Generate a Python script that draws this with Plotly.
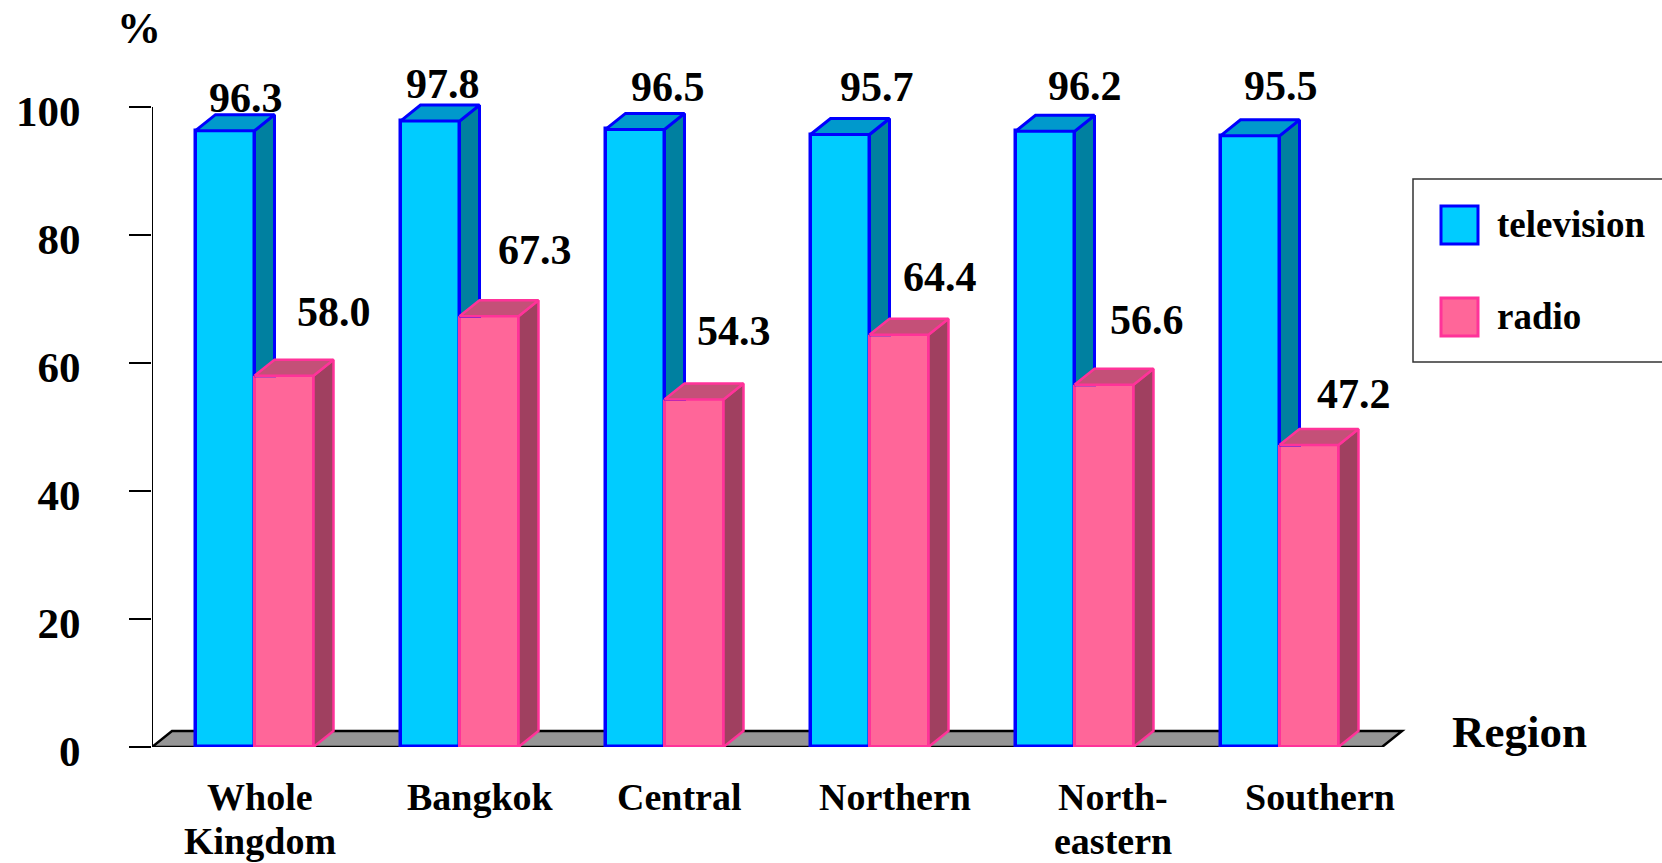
import plotly.graph_objects as go

# ---------------- data ----------------
categories = ["Whole<br>Kingdom", "Bangkok", "Central", "Northern", "North-<br>eastern", "Southern"]
television = [96.3, 97.8, 96.5, 95.7, 96.2, 95.5]
radio = [58.0, 67.3, 54.3, 64.4, 56.6, 47.2]
y_ticks = [0, 20, 40, 60, 80, 100]
series_names = ["television", "radio"]

# ---------------- style ----------------
FONT = "Liberation Serif"
W_PX, H_PX = 1662, 863
ML, MR, MT, MB = 152, 250, 43, 116
UX = 205.0                      # px per category
PW = W_PX - ML - MR
PH = H_PX - MT - MB
Y_MAX = PH / 6.4
X_MIN = -0.5
X_MAX = X_MIN + PW / UX

BAR_W = 59 / UX                 # front face width (data units)
DX = 20 / UX                    # 3D depth offset, x (data units)
DY = 16 / 6.4                   # 3D depth offset, y (data units)

TV_FRONT, TV_TOP, TV_SIDE, TV_LINE = "#00CCFF", "#0099CC", "#0080A0", "#0000FF"
RA_FRONT, RA_TOP, RA_SIDE, RA_LINE = "#FF6699", "#C45078", "#A04060", "#FF3399"

# per-label placement nudges (pixels) imitating the original layout
tv_lab_dx = [11, 3, 23, 27, 30, 21]
tv_lab_up = [33, 37, 42, 48, 45, 50]
ra_lab_dx = [40, 36, 30, 31, 33, 35]
ra_lab_up = [64, 66, 68, 58, 65, 51]
cat_lab_dx = [5, 21, 15, 25, 38, 40]


def px_x(px):
    return (px - ML) / PW


def px_y(py):
    return (H_PX - MB - py) / PH


n = len(categories)
idx = list(range(n))

fig = go.Figure()

# front faces (real bars)
tv_x = [i - BAR_W / 2 for i in idx]
ra_x = [i + BAR_W / 2 for i in idx]
fig.add_trace(go.Bar(x=tv_x, y=television, width=BAR_W, name=series_names[0],
                     marker=dict(color=TV_FRONT, line=dict(color=TV_LINE, width=3.5)),
                     showlegend=False, hoverinfo="skip"))
fig.add_trace(go.Bar(x=ra_x, y=radio, width=BAR_W, name=series_names[1],
                     marker=dict(color=RA_FRONT, line=dict(color=RA_LINE, width=3)),
                     showlegend=False, hoverinfo="skip"))


def poly_trace(xs, ys, fill, line, lw):
    return go.Scatter(x=xs, y=ys, mode="lines", fill="toself", fillcolor=fill,
                      line=dict(color=line, width=lw), showlegend=False,
                      hoverinfo="skip")


# television side faces (visible part above the radio bar) and top faces
sx, sy, tx, ty = [], [], [], []
for i, v, r in zip(idx, television, radio):
    xl, xr = i - BAR_W, i
    low = min(r, v)
    sx += [xr, xr + DX, xr + DX, xr, xr, None]
    sy += [low, low, v + DY, v, low, None]
    tx += [xl, xl + DX, xr + DX, xr, xl, None]
    ty += [v, v + DY, v + DY, v, v, None]
fig.add_trace(poly_trace(sx, sy, TV_SIDE, TV_LINE, 3))
fig.add_trace(poly_trace(tx, ty, TV_TOP, TV_LINE, 3))

# radio side and top faces
sx, sy, tx, ty = [], [], [], []
for i, r in zip(idx, radio):
    xl, xr = i, i + BAR_W
    sx += [xr, xr + DX, xr + DX, xr, xr, None]
    sy += [0, DY, r + DY, r, 0, None]
    tx += [xl, xl + DX, xr + DX, xr, xl, None]
    ty += [r, r + DY, r + DY, r, r, None]
fig.add_trace(poly_trace(sx, sy, RA_SIDE, RA_LINE, 2.5))
fig.add_trace(poly_trace(tx, ty, RA_TOP, RA_LINE, 2.5))

shapes = []
# floor
x_end = n - 0.5
shapes.append(dict(type="path", xref="x", yref="y", layer="below",
                   path=f"M {X_MIN},0 L {x_end},0 L {x_end + DX},{DY} L {X_MIN + DX},{DY} Z",
                   fillcolor="#969696", line=dict(color="black", width=2.5)))
# y axis line
shapes.append(dict(type="line", xref="x", yref="y", x0=X_MIN, x1=X_MIN, y0=0, y1=max(y_ticks),
                   line=dict(color="black", width=2), layer="below"))

annotations = []
lab_font = dict(family=FONT, size=42, color="black", weight="bold")
for i, v in enumerate(television):
    annotations.append(dict(x=i - BAR_W + (BAR_W + DX) / 2, y=v, xref="x", yref="y",
                            text=f"{v:.1f}", showarrow=False, font=lab_font,
                            xanchor="center", yanchor="middle",
                            xshift=tv_lab_dx[i], yshift=tv_lab_up[i]))
for i, r in enumerate(radio):
    annotations.append(dict(x=i + (BAR_W + DX) / 2, y=r, xref="x", yref="y",
                            text=f"{r:.1f}", showarrow=False, font=lab_font,
                            xanchor="center", yanchor="middle",
                            xshift=ra_lab_dx[i], yshift=ra_lab_up[i]))

# category labels (each line placed separately)
cat_font = dict(family=FONT, size=38, color="black", weight="bold")
for i, c in enumerate(categories):
    for k, line in enumerate(c.split("<br>")):
        annotations.append(dict(x=i, y=0, xref="x", yref="y", text=line, showarrow=False,
                                font=cat_font, xanchor="center", yanchor="middle",
                                xshift=cat_lab_dx[i], yshift=-(50 + 44 * k)))

# axis titles
annotations.append(dict(x=px_x(1519), y=px_y(732), xref="paper", yref="paper", text="Region",
                        showarrow=False, font=dict(family=FONT, size=45, color="black", weight="bold"),
                        xanchor="center", yanchor="middle"))
annotations.append(dict(x=px_x(139), y=px_y(28), xref="paper", yref="paper", text="%",
                        showarrow=False, font=dict(family=FONT, size=44, color="black", weight="bold"),
                        xanchor="center", yanchor="middle"))

# legend (drawn manually for large swatches)
shapes.append(dict(type="rect", xref="paper", yref="paper",
                   x0=px_x(1413), x1=px_x(1675), y0=px_y(179), y1=px_y(362),
                   line=dict(color="#333333", width=1.5), fillcolor="white"))
leg_items = [(series_names[0], TV_FRONT, TV_LINE, 206), (series_names[1], RA_FRONT, RA_LINE, 298)]
for name, fc, lc, top in leg_items:
    shapes.append(dict(type="rect", xref="paper", yref="paper",
                       x0=px_x(1441), x1=px_x(1478), y0=px_y(top), y1=px_y(top + 38),
                       line=dict(color=lc, width=3), fillcolor=fc))
    annotations.append(dict(x=px_x(1495), y=px_y(top + 18), xref="paper", yref="paper", text=name,
                            showarrow=False, font=dict(family=FONT, size=37, color="black", weight="bold"),
                            xanchor="left", yanchor="middle"))

fig.update_layout(
    width=W_PX, height=H_PX,
    margin=dict(l=ML, r=MR, t=MT, b=MB, autoexpand=False),
    paper_bgcolor="white", plot_bgcolor="white",
    barmode="overlay", bargap=0,
    showlegend=False,
    shapes=shapes, annotations=annotations,
    xaxis=dict(range=[X_MIN, X_MAX], showgrid=False, zeroline=False, showline=False,
               showticklabels=False, ticks="", fixedrange=True),
    yaxis=dict(range=[0, Y_MAX], showgrid=False, zeroline=False, showline=False,
               tickvals=y_ticks, ticktext=[str(t) for t in y_ticks],
               ticks="outside", ticklen=22, tickwidth=2, tickcolor="black",
               tickfont=dict(family=FONT, size=43, color="black", weight="bold"),
               ticklabelstandoff=40, ticklabelshift=4, fixedrange=True),
)

fig.write_html("out.html")
